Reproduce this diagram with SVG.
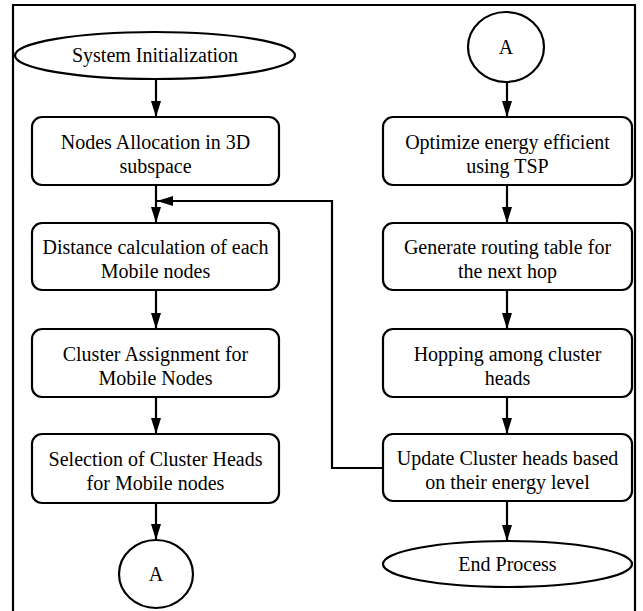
<svg xmlns="http://www.w3.org/2000/svg" width="643" height="611" viewBox="0 0 643 611">
<defs>
<marker id="ah" markerWidth="16" markerHeight="10" refX="16" refY="5" orient="auto" markerUnits="userSpaceOnUse">
<path d="M0,0 L16,5 L0,10 Z" fill="#000"/>
</marker>
<style>
.n{fill:#fff;stroke:#000;stroke-width:2.2}
.t{font-size:20px;fill:#000;text-anchor:middle}
.c{fill:none;stroke:#000;stroke-width:2.2;marker-end:url(#ah)}
</style>
</defs>
<rect x="0" y="0" width="643" height="611" fill="#fff"/>
<path d="M13,613 V5 H635 V613" fill="none" stroke="#000" stroke-width="2.2"/>
<g id="connectors">
<path class="c" d="M156,79 V117"/>
<path class="c" d="M156,185 V223"/>
<path class="c" d="M156,290 V329"/>
<path class="c" d="M156,397 V434"/>
<path class="c" d="M156,503 V540"/>
<path class="c" d="M507,82 V117"/>
<path class="c" d="M507,185 V223"/>
<path class="c" d="M507,290 V329"/>
<path class="c" d="M507,397 V434"/>
<path class="c" d="M507,501 V541"/>
<path class="c" d="M383,468 H332 V201 H157"/>
</g>
<g font-family="'Liberation Serif', 'Times New Roman', 'DejaVu Serif', serif">
<g id="start">
<ellipse class="n" cx="155" cy="55.5" rx="140" ry="23.5"/>
<text class="t" x="155" y="62">System Initialization</text>
</g>
<g id="nodes-alloc">
<rect class="n" x="32" y="117" width="247" height="68" rx="10"/>
<text class="t" x="155.5" y="149">Nodes Allocation in 3D</text>
<text class="t" x="155.5" y="173">subspace</text>
</g>
<g id="distance">
<rect class="n" x="32" y="223" width="247" height="67" rx="10"/>
<text class="t" x="155.5" y="254">Distance calculation of each</text>
<text class="t" x="155.5" y="278">Mobile nodes</text>
</g>
<g id="cluster-assign">
<rect class="n" x="32" y="329" width="247" height="68" rx="10"/>
<text class="t" x="155.5" y="361">Cluster Assignment for</text>
<text class="t" x="155.5" y="385">Mobile Nodes</text>
</g>
<g id="selection">
<rect class="n" x="32" y="434" width="247" height="69" rx="10"/>
<text class="t" x="155.5" y="466">Selection of Cluster Heads</text>
<text class="t" x="155.5" y="490">for Mobile nodes</text>
</g>
<g id="connector-a-out">
<ellipse class="n" cx="156" cy="574" rx="37" ry="34"/>
<text class="t" x="156" y="581">A</text>
</g>
<g id="connector-a-in">
<ellipse class="n" cx="506" cy="47" rx="38" ry="35"/>
<text class="t" x="506" y="54">A</text>
</g>
<g id="optimize">
<rect class="n" x="383" y="117" width="249" height="68" rx="10"/>
<text class="t" x="507.5" y="149">Optimize energy efficient</text>
<text class="t" x="507.5" y="173">using TSP</text>
</g>
<g id="routing">
<rect class="n" x="383" y="223" width="249" height="67" rx="10"/>
<text class="t" x="507.5" y="254">Generate routing table for</text>
<text class="t" x="507.5" y="278">the next hop</text>
</g>
<g id="hopping">
<rect class="n" x="383" y="329" width="249" height="68" rx="10"/>
<text class="t" x="507.5" y="361">Hopping among cluster</text>
<text class="t" x="507.5" y="385">heads</text>
</g>
<g id="update">
<rect class="n" x="383" y="434" width="249" height="67" rx="10"/>
<text class="t" x="507.5" y="465">Update Cluster heads based</text>
<text class="t" x="507.5" y="489">on their energy level</text>
</g>
<g id="end">
<ellipse class="n" cx="507.5" cy="564" rx="124.5" ry="23"/>
<text class="t" x="507.5" y="571">End Process</text>
</g>
</g>
</svg>
